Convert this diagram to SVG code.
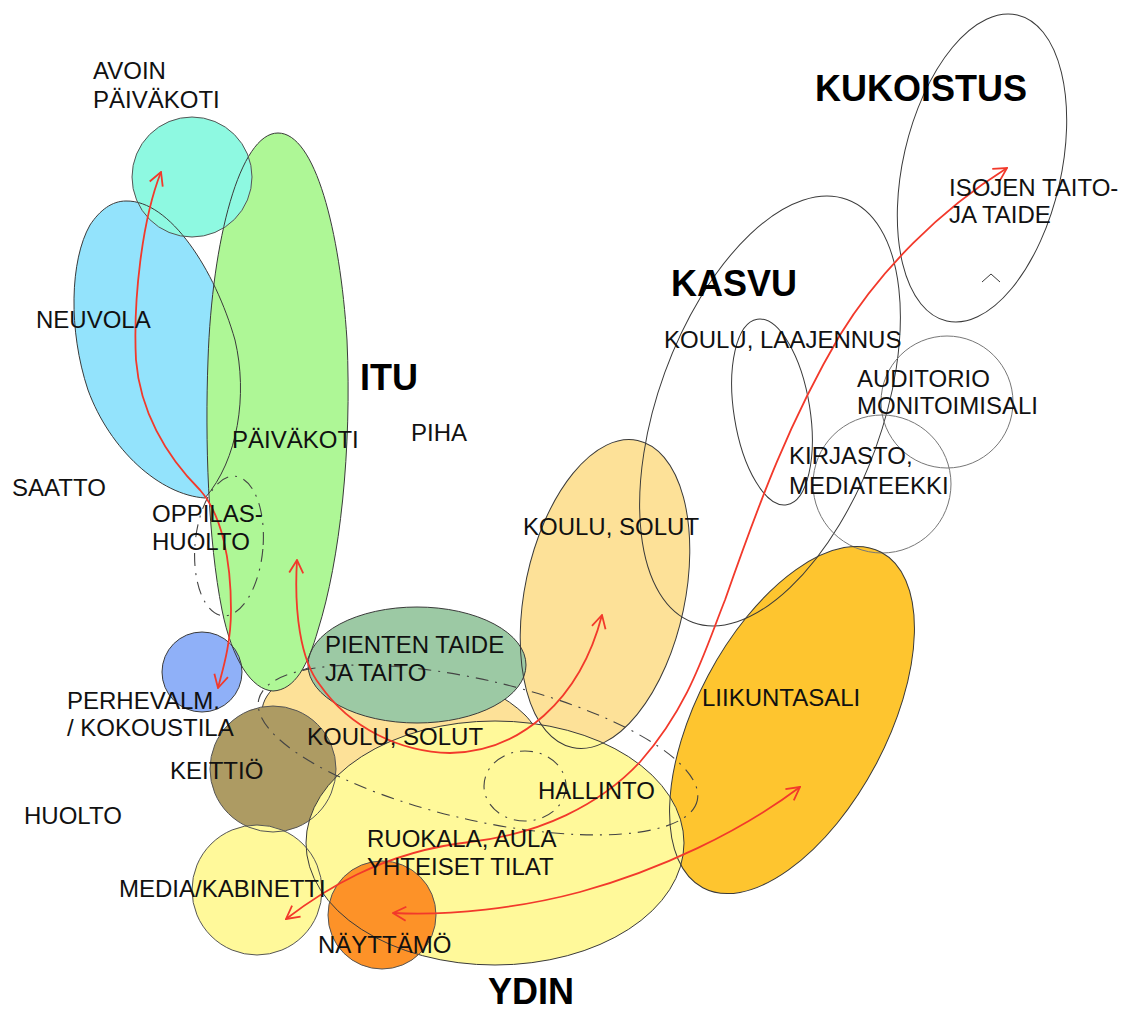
<svg xmlns="http://www.w3.org/2000/svg" width="1123" height="1013" viewBox="0 0 1123 1013">
<defs>
<style>
.lbl{font-family:"Liberation Sans",Arial,Helvetica,sans-serif;font-size:24px;fill:#111}
.hd{font-family:"Liberation Sans",Arial,Helvetica,sans-serif;font-size:36px;font-weight:bold;fill:#000}
.ring{fill:none;stroke:#3a3a3a;stroke-width:1}
.ring2{fill:none;stroke:#777;stroke-width:1}
.dd{fill:none;stroke:#444;stroke-width:1.1;stroke-dasharray:13 7 2 7}
.arr{fill:none;stroke:#f2392b;stroke-width:1.8;marker-start:url(#ah);marker-end:url(#ah)}
</style>
<marker id="ah" viewBox="0 0 16 16" refX="15" refY="8" markerWidth="16" markerHeight="16" markerUnits="userSpaceOnUse" orient="auto-start-reverse">
<path d="M2,1 L15,8 L2,15" fill="none" stroke="#f2392b" stroke-width="1.8"/>
</marker>
</defs>
<rect width="1123" height="1013" fill="#fff"/>

<g id="nodes">
<g id="koulu-solut-ydin" fill="#fde198" stroke="#3a3a3a" stroke-width="1"><path id="s-tan" d="M262,712 C262,690 290,670 330,662 C400,650 490,680 525,715 C555,745 540,790 480,800 C400,812 300,800 270,770 C258,755 260,730 262,712 Z"/></g>
<g id="neuvola" fill="#93e3fc"><path id="s-neuvola" d="M126,201 C170,200 215,270 235,340 C248,395 238,460 205,498 C160,495 110,450 88,390 C68,330 70,260 90,225 C100,210 112,201 126,201 Z"/></g>
<g id="paivakoti" fill="#aef796"><path id="s-paivakoti" d="M278,133 C315,133 340,230 347,340 C352,450 340,560 318,630 C308,665 295,690 273,691 C252,690 232,660 222,610 C208,540 205,440 208,360 C212,240 240,133 278,133 Z"/></g>
<g id="avoin-paivakoti" fill="#8ef9e1"><circle id="s-avoin" cx="192" cy="177" r="60"/></g>
<g id="perhevalmennus" fill="#8fb0f8"><circle id="s-perhe" cx="202" cy="672" r="40"/></g>
<g id="koulu-solut-kasvu" fill="#fde198"><ellipse id="s-koulu" cx="605" cy="594" rx="80" ry="157" transform="rotate(12 605 594)"/></g>
<g id="liikuntasali" fill="#fec52f"><ellipse id="s-liikunta" cx="792" cy="720" rx="95" ry="190" transform="rotate(28 792 720)"/></g>
<g id="pienten-taide" fill="#9cc9a4"><ellipse id="s-pienten" cx="417" cy="665" rx="109" ry="58"/></g>
<g id="keittio" fill="#ad9b63"><circle id="s-keittio" cx="273" cy="769" r="63"/></g>
<g id="ruokala" fill="#fff99a"><ellipse id="s-ruokala" cx="495" cy="843" rx="189" ry="122"/></g>
<g id="media" fill="#fff99a"><circle id="s-media" cx="257" cy="890" r="65"/></g>
<g id="nayttamo" fill="#fd9228"><circle id="s-nayttamo" cx="382" cy="915" r="54"/></g>

<g id="kukoistus"><ellipse class="ring" cx="982" cy="168" rx="79" ry="157" transform="rotate(13 982 168)"/><polyline class="ring" points="982,282 991,274 1000,282"/></g>
<g id="koulu-laajennus"><ellipse class="ring" cx="770" cy="411" rx="112" ry="225" transform="rotate(20 770 411)"/><ellipse class="ring" cx="772" cy="412" rx="38" ry="94" transform="rotate(-9 772 412)"/></g>
<g id="auditorio"><circle class="ring2" cx="947" cy="402" r="66"/></g>
<g id="kirjasto"><circle class="ring2" cx="882" cy="484" r="69"/></g>
<g id="oppilashuolto"><ellipse class="dd" cx="229" cy="546" rx="34" ry="70" transform="rotate(5 229 546)"/></g>
<g id="ydin-alue"><ellipse class="dd" cx="478" cy="750" rx="225" ry="70" transform="rotate(13 478 750)"/></g>
<g id="hallinto"><ellipse class="dd" cx="525" cy="786" rx="41" ry="35"/></g>
</g>

<g id="outlines" fill="none" stroke="#3a3a3a" stroke-width="1">
<use href="#s-neuvola"/>
<use href="#s-paivakoti"/>
<use href="#s-avoin" stroke="#555"/>
<use href="#s-perhe"/>
<use href="#s-koulu"/>
<use href="#s-liikunta"/>
<use href="#s-pienten"/>
<use href="#s-keittio" stroke="#555"/>
<use href="#s-ruokala"/>
<use href="#s-media" stroke="#555"/>
<use href="#s-nayttamo" stroke="#555"/>
</g>

<g id="connectors">
<path class="arr" d="M161,172 C142,220 133,300 136,360 C140,410 165,455 200,490 C222,515 231,560 231,610 C231,645 222,672 218,688"/>
<path class="arr" d="M297,560 C294,610 300,660 320,685 C350,728 400,752 450,753 C520,752 580,700 602,615"/>
<path class="arr" d="M286,919 C320,893 380,852 470,842 C540,834 600,805 640,762 C690,705 705,650 725,600 C760,500 790,420 840,335 C880,270 940,210 1007,168"/>
<path class="arr" d="M393,913 C450,916 520,908 580,892 C660,870 740,832 800,787"/>
</g>

<g id="labels">
<text class="lbl" x="93" y="79">AVOIN</text>
<text class="lbl" x="93" y="108">PÄIVÄKOTI</text>
<text class="lbl" x="36" y="328">NEUVOLA</text>
<text class="hd" x="360" y="390">ITU</text>
<text class="lbl" x="411" y="441">PIHA</text>
<text class="lbl" x="232" y="448">PÄIVÄKOTI</text>
<text class="lbl" x="12" y="496">SAATTO</text>
<text class="lbl" x="152" y="522">OPPILAS-</text>
<text class="lbl" x="152" y="550">HUOLTO</text>
<text class="lbl" x="325" y="653">PIENTEN TAIDE</text>
<text class="lbl" x="325" y="681">JA TAITO</text>
<text class="lbl" x="67" y="709">PERHEVALM.</text>
<text class="lbl" x="67" y="736">/ KOKOUSTILA</text>
<text class="lbl" x="307" y="745">KOULU, SOLUT</text>
<text class="lbl" x="170" y="779">KEITTIÖ</text>
<text class="lbl" x="538" y="799">HALLINTO</text>
<text class="lbl" x="24" y="824">HUOLTO</text>
<text class="lbl" x="367" y="847">RUOKALA, AULA</text>
<text class="lbl" x="367" y="875">YHTEISET TILAT</text>
<text class="lbl" x="119" y="897">MEDIA/KABINETTI</text>
<text class="lbl" x="318" y="953">NÄYTTÄMÖ</text>
<text class="hd" x="488" y="1004">YDIN</text>
<text class="lbl" x="523" y="535">KOULU, SOLUT</text>
<text class="lbl" x="702" y="706">LIIKUNTASALI</text>
<text class="lbl" x="789" y="464">KIRJASTO,</text>
<text class="lbl" x="789" y="494">MEDIATEEKKI</text>
<text class="lbl" x="857" y="387">AUDITORIO</text>
<text class="lbl" x="857" y="414">MONITOIMISALI</text>
<text class="lbl" x="664" y="348">KOULU, LAAJENNUS</text>
<text class="hd" x="671" y="296">KASVU</text>
<text class="lbl" x="949" y="196">ISOJEN TAITO-</text>
<text class="lbl" x="949" y="223">JA TAIDE</text>
<text class="hd" x="815" y="101">KUKOISTUS</text>
</g>
</svg>
